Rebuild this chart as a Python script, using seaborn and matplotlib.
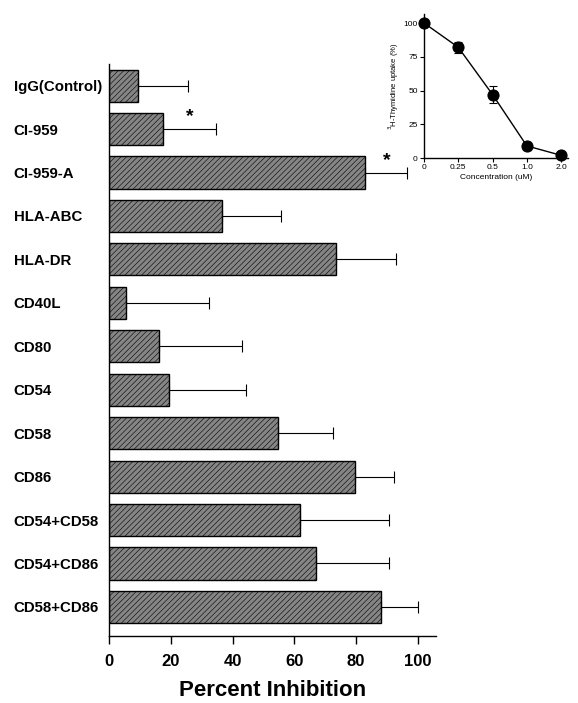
import numpy as np
import pandas as pd
import matplotlib
matplotlib.use("Agg")
import matplotlib.pyplot as plt
import seaborn as sns

# main bar chart data
treatments = ["IgG(Control)", "CI-959", "CI-959-A", "HLA-ABC", "HLA-DR", "CD40L",
              "CD80", "CD54", "CD58", "CD86", "CD54+CD58", "CD54+CD86", "CD58+CD86"]
inhibition = [9.4, 17.5, 82.8, 36.6, 73.5, 5.5, 16.2, 19.4, 54.7, 79.6, 61.8, 67.0, 88.0]
inhibition_err = [16.1, 17.1, 13.6, 19.1, 19.4, 26.9, 26.8, 24.9, 17.8, 12.6, 28.8, 23.6, 12.0]
star_labels = ["CI-959", "CI-959-A"]
star_x = [26, 90]

# inset dose-response data
conc_labels = ["0", "0.25", "0.5", "1.0", "2.0"]
uptake = [100, 82, 47, 9, 2]
uptake_err = [0, 4, 6, 3, 1]

sns.set_style("white")
plt.rcParams["font.family"] = ["Liberation Sans", "DejaVu Sans"]
plt.rcParams["hatch.linewidth"] = 0.4
for k in ["text.color", "axes.labelcolor", "xtick.color", "ytick.color"]:
    plt.rcParams[k] = "black"

fig = plt.figure(figsize=(5.78, 7.03), dpi=100)
ax = fig.add_axes([0.1886, 0.0953, 0.5665, 0.8137])

df = pd.DataFrame({"treatment": treatments, "inhibition": inhibition})
sns.barplot(data=df, y="treatment", x="inhibition", orient="h", ax=ax,
            color="#858585", edgecolor="black", linewidth=1.0, width=0.74,
            errorbar=None, saturation=1)
for bar in ax.patches:
    bar.set_hatch("//////")

ypos = np.arange(len(treatments))
ax.errorbar(inhibition, ypos, xerr=[np.zeros(len(inhibition_err)), inhibition_err],
            fmt="none", ecolor="black", elinewidth=0.8, capsize=4.3, capthick=0.8)

for lab, sx in zip(star_labels, star_x):
    i = treatments.index(lab)
    ax.text(sx, i - 0.28, "*", ha="center", va="center", fontsize=14, fontweight="bold")

ax.set_xlim(0, 106)
ax.set_ylim(len(treatments) - 0.33, -0.5)
ax.set_xticks([0, 20, 40, 60, 80, 100])
ax.set_xlabel("Percent Inhibition", fontsize=16, fontweight="bold", labelpad=8)
ax.set_ylabel("")
ax.tick_params(axis="x", direction="out", length=6, width=1, pad=7, labelsize=12, bottom=True)
ax.tick_params(axis="y", length=0, pad=68.5, labelsize=10.8)
for t in ax.get_xticklabels() + ax.get_yticklabels():
    t.set_fontweight("bold")
for t in ax.get_yticklabels():
    t.set_horizontalalignment("left")
ax.spines["top"].set_visible(False)
ax.spines["right"].set_visible(False)
for s in ["left", "bottom"]:
    ax.spines[s].set_linewidth(1.0)
    ax.spines[s].set_color("black")

# inset
ins = fig.add_axes([0.7336, 0.7752, 0.2490, 0.2055])
xi = np.arange(len(conc_labels))
sns.lineplot(x=xi, y=uptake, ax=ins, color="black", linewidth=1.0, marker="o",
             markersize=8, markeredgecolor="black", markerfacecolor="black")
ins.errorbar(xi, uptake, yerr=uptake_err, fmt="none", ecolor="black",
             elinewidth=0.8, capsize=3, capthick=0.8)
ins.set_xlim(0, 4.2)
ins.set_ylim(0, 107)
ins.set_xticks(xi)
ins.set_xticklabels(conc_labels)
ins.set_yticks([0, 25, 50, 75, 100])
ins.set_xlabel("Concentration (uM)", fontsize=6, labelpad=2)
ins.set_ylabel("$^3$H-Thymidine uptake (%)", fontsize=5.5, labelpad=2)
ins.tick_params(direction="out", length=3, width=0.8, labelsize=6, pad=1.5,
                bottom=True, left=True)
ins.spines["top"].set_visible(False)
ins.spines["right"].set_visible(False)
for s in ["left", "bottom"]:
    ins.spines[s].set_linewidth(1.0)
    ins.spines[s].set_color("black")
for sp in ins.spines.values():
    sp.set_clip_on(False)
for ln in ins.lines:
    ln.set_clip_on(False)

fig.savefig("out.png", dpi=100)
